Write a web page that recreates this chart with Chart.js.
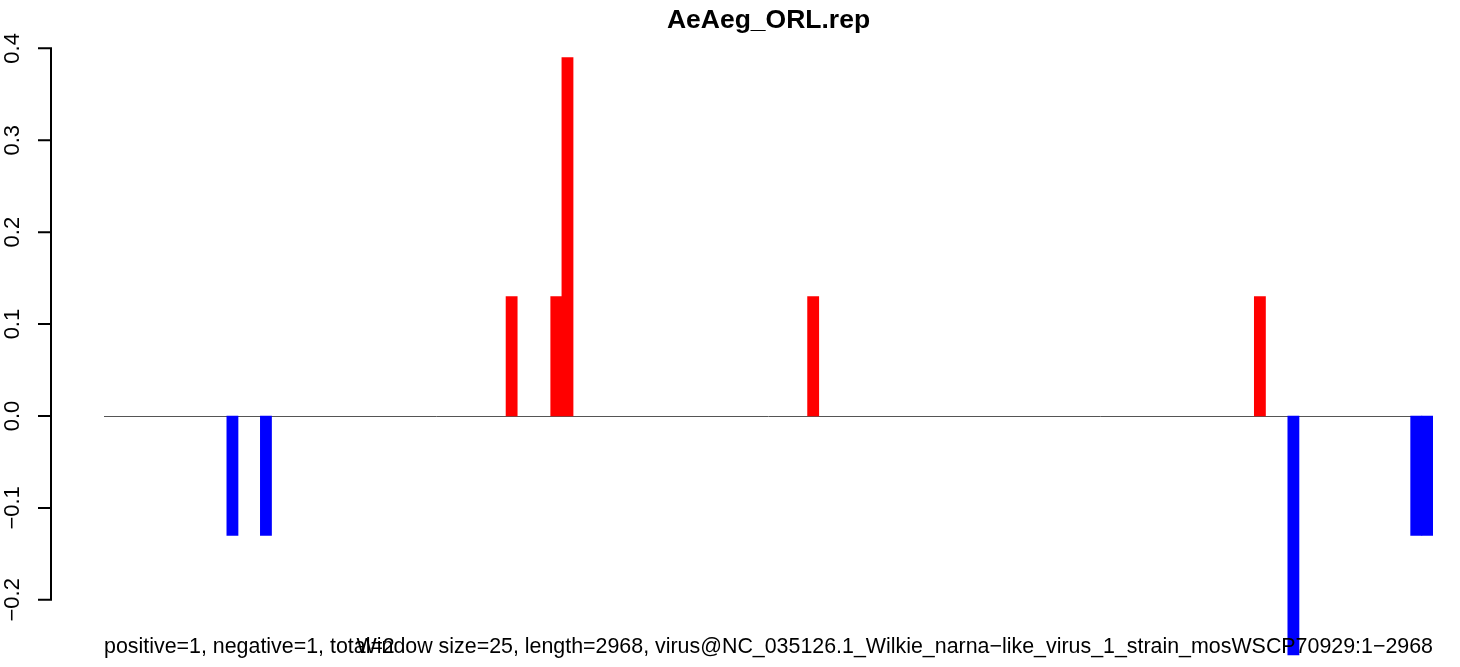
<!DOCTYPE html>
<html>
<head>
<meta charset="utf-8">
<title>AeAeg_ORL.rep</title>
<script src="https://cdn.jsdelivr.net/npm/chart.js@4.4.1/dist/chart.umd.min.js"></script>
<style>
  html, body { margin: 0; padding: 0; background: #fff; }
  #wrap { width: 1460px; height: 667px; }
</style>
</head>
<body>
<div id="wrap"><canvas id="chart" width="1460" height="667"></canvas></div>
<script>
// ── DATA ───────────────────────────────────────────────────────────────────

const TITLE       = 'AeAeg_ORL.rep';
const WINDOW_SIZE = 25;
const SEQ_LENGTH  = 2968;
const NOTE_LEFT   = 'positive=1, negative=1, total=2';
const NOTE_RIGHT  = 'Window size=25, length=2968, virus@NC_035126.1_Wilkie_narna\u2212like_virus_1_strain_mosWSCP70929:1\u22122968';

// one score per 25-nt window, 119 windows
const SCORES = [
  0, 0, 0, 0, 0, 0, 0, 0, 0, 0, 0, -0.13, 0, 0, -0.13, 0, 0, 0, 0, 0,
  0, 0, 0, 0, 0, 0, 0, 0, 0, 0, 0, 0, 0, 0, 0, 0, 0.13, 0, 0, 0,
  0.13, 0.39, 0, 0, 0, 0, 0, 0, 0, 0, 0, 0, 0, 0, 0, 0, 0, 0, 0, 0,
  0, 0, 0, 0.13, 0, 0, 0, 0, 0, 0, 0, 0, 0, 0, 0, 0, 0, 0, 0, 0,
  0, 0, 0, 0, 0, 0, 0, 0, 0, 0, 0, 0, 0, 0, 0, 0, 0, 0, 0, 0,
  0, 0, 0, 0.13, 0, 0, -0.26, 0, 0, 0, 0, 0, 0, 0, 0, 0, 0, -0.13, -0.13,
];

const Y_TICKS       = [-0.2, -0.1, 0.0, 0.1, 0.2, 0.3, 0.4];
const Y_TICK_LABELS = ['\u22120.2', '\u22120.1', '0.0', '0.1', '0.2', '0.3', '0.4'];
const Y_MIN = -0.2731;
const Y_MAX = 0.4156;

// ── STYLE ──────────────────────────────────────────────────────────────────

const FONT = '"Liberation Sans", Arial, Helvetica, sans-serif';
const POS  = '#ff0000';
const NEG  = '#0000ff';

// window start positions as category labels
const WINDOWS = SCORES.map((_, i) => i * WINDOW_SIZE + 1);

// ── R-style axis, zero line and footer text ────────────────────────────────

const rDecor = {
  id: 'rDecor',
  beforeDatasetsDraw(chart) {
    const { ctx, chartArea, scales: { y } } = chart;
    const y0 = Math.round(y.getPixelForValue(0)) + 0.5;
    ctx.save();
    ctx.strokeStyle = '#555';
    ctx.lineWidth = 1;
    ctx.beginPath();
    ctx.moveTo(chartArea.left, y0);
    ctx.lineTo(chartArea.right, y0);
    ctx.stroke();
    ctx.restore();
  },
  afterDraw(chart) {
    const { ctx, chartArea, scales: { y } } = chart;
    // axis sits 4% of the bar span left of the first bar, like R's xaxs="r"
    const axisX = Math.round(chartArea.left - 0.04 * (chartArea.right - chartArea.left));
    const yTop  = y.getPixelForValue(Y_TICKS[Y_TICKS.length - 1]);
    const yBot  = y.getPixelForValue(Y_TICKS[0]);

    ctx.save();
    ctx.strokeStyle = '#000';
    ctx.lineWidth = 2;
    ctx.beginPath();
    ctx.moveTo(axisX, yTop);
    ctx.lineTo(axisX, yBot);
    Y_TICKS.forEach(v => {
      const py = y.getPixelForValue(v);
      ctx.moveTo(axisX + 1, py);
      ctx.lineTo(axisX - 13, py);
    });
    ctx.stroke();

    ctx.fillStyle = '#000';
    ctx.font = `22px ${FONT}`;
    ctx.textAlign = 'center';
    ctx.textBaseline = 'alphabetic';
    Y_TICKS.forEach((v, i) => {
      ctx.save();
      ctx.translate(axisX - 32, y.getPixelForValue(v));
      ctx.rotate(-Math.PI / 2);
      ctx.fillText(Y_TICK_LABELS[i], 0, 0);
      ctx.restore();
    });

    // footer notes, overlapping as in the original
    ctx.font = `21.4px ${FONT}`;
    ctx.textAlign = 'left';
    ctx.fillText(NOTE_LEFT, chartArea.left, 653);
    ctx.textAlign = 'right';
    ctx.fillText(NOTE_RIGHT, chartArea.right, 653);
    ctx.restore();
  },
};

// ── CHART ──────────────────────────────────────────────────────────────────

new Chart(document.getElementById('chart').getContext('2d'), {
  type: 'bar',
  data: {
    labels: WINDOWS,
    datasets: [{
      label: TITLE,
      data: SCORES,
      // zero windows stay invisible so only the grey baseline shows
      backgroundColor: ctx => (ctx.raw > 0 ? POS : ctx.raw < 0 ? NEG : 'rgba(0,0,0,0)'),
      borderWidth: 0,
      barPercentage: 1,
      categoryPercentage: 1,
    }],
  },
  options: {
    responsive: false,
    animation: false,
    devicePixelRatio: 1,
    layout: { padding: { left: 104, right: 27, top: 0, bottom: 0 } },
    plugins: {
      legend: { display: false },
      tooltip: { enabled: false },
      title: {
        display: true,
        text: TITLE,
        color: '#000',
        font: { family: FONT, size: 26.5, weight: 'bold', lineHeight: 1 },
        padding: { top: 7, bottom: 0.5 },
      },
    },
    scales: {
      x: { display: false, grid: { display: false } },
      y: { display: false, min: Y_MIN, max: Y_MAX, grid: { display: false } },
    },
  },
  plugins: [rDecor],
});
</script>
</body>
</html>
